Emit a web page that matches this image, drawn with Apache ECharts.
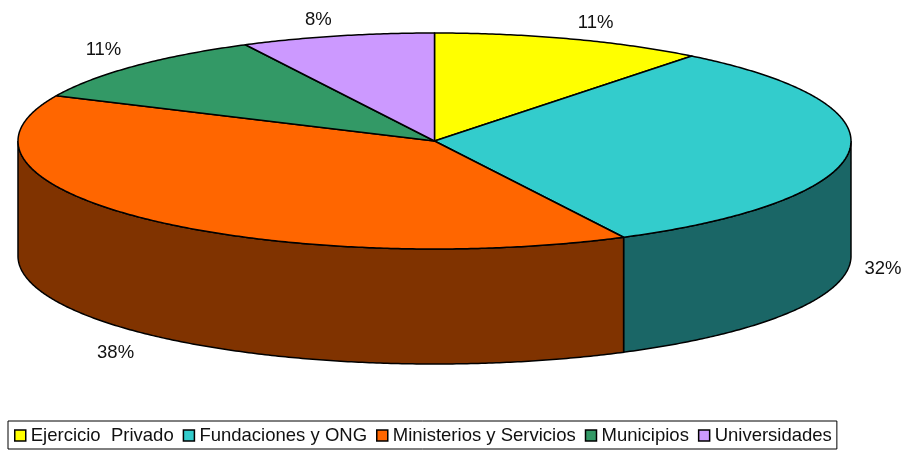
<!DOCTYPE html>
<html>
<head>
<meta charset="utf-8">
<style>
  html, body { margin: 0; padding: 0; background: #fff; }
  #chart { width: 907px; height: 451px; }
</style>
<script src="https://cdn.jsdelivr.net/npm/echarts@6/dist/echarts.min.js"></script>
</head>
<body>
<div id="chart"></div>
<script>
const categories = ['Ejercicio  Privado', 'Fundaciones y ONG', 'Ministerios y Servicios', 'Municipios', 'Universidades']
// slice sizes as measured on the picture; the printed labels are rounded differently
const shares = [10.6, 31.9, 39.4, 10.6, 7.5]
const shareLabels = ['11%', '32%', '38%', '11%', '8%']
const topColors = ['#ffff00', '#33cccc', '#ff6600', '#339966', '#cc99ff']
const sideColors = ['#808000', '#1a6666', '#803300', '#1a4d33', '#664d80']

// pie geometry, in page pixels
const CX = 434.5
const CY = 141
const RX = 416.5
const RY = 108
const DEPTH = 115
const FONT = 'Liberation Sans, Arial, sans-serif'
// label position relative to the rim at the middle of the slice
const labelNudge = [[25, -16], [34, 117], [-30, 134], [-31, -16], [-19, -16]]

const total = shares.reduce((a, b) => a + b, 0)

// deg is clockwise from the top of the ellipse
function rim(deg, dy = 0) {
  const t = (deg * Math.PI) / 180
  return [CX + RX * Math.sin(t), CY - RY * Math.cos(t) + dy]
}

function arc(from, to, dy = 0) {
  const pts = []
  for (let d = from; d < to; d += 0.5) pts.push(rim(d, dy))
  pts.push(rim(to, dy))
  return pts
}

function renderSlice(params, api) {
  const from = (api.value(1) / total) * 360
  const to = from + (api.value(0) / total) * 360
  const i = params.seriesIndex
  const children = []

  // only the front half of the rim shows a wall
  const wallFrom = Math.max(from, 90)
  const wallTo = Math.min(to, 270)
  if (wallFrom < wallTo) {
    children.push({
      type: 'polygon',
      shape: { points: arc(wallFrom, wallTo).concat(arc(wallFrom, wallTo, DEPTH).reverse()) },
      style: { fill: sideColors[i], stroke: '#000', lineWidth: 1.5 },
    })
  }
  children.push({
    type: 'polygon',
    z2: 2,
    shape: { points: [[CX, CY]].concat(arc(from, to)) },
    style: { fill: topColors[i], stroke: '#000', lineWidth: 1.5, lineJoin: 'round' },
  })
  const mid = rim((from + to) / 2)
  children.push({
    type: 'text',
    z2: 3,
    x: mid[0] + labelNudge[i][0],
    y: mid[1] + labelNudge[i][1],
    style: {
      text: shareLabels[i],
      font: '18.5px ' + FONT,
      fill: '#111',
      align: 'center',
      verticalAlign: 'middle',
    },
  })
  return { type: 'group', children }
}

let running = 0
const series = categories.map((name, i) => {
  const start = running
  running += shares[i]
  return {
    name,
    type: 'custom',
    coordinateSystem: 'none',
    silent: true,
    itemStyle: { color: topColors[i] },
    data: [[shares[i], start]],
    renderItem: renderSlice,
  }
})

const chart = echarts.init(document.getElementById('chart'), null, { renderer: 'canvas' })
chart.setOption({
  animation: false,
  backgroundColor: '#fff',
  legend: {
    left: 8,
    top: 421,
    padding: [5, 5, 4, 6],
    backgroundColor: '#fff',
    borderColor: '#000',
    borderWidth: 1,
    borderRadius: 0,
    icon: 'rect',
    itemWidth: 11,
    itemHeight: 11,
    itemGap: 9,
    selectedMode: false,
    itemStyle: { borderColor: '#000', borderWidth: 1.5 },
    textStyle: { fontFamily: FONT, fontSize: 18.5, color: '#111' },
    data: categories,
  },
  series,
})
</script>
</body>
</html>
